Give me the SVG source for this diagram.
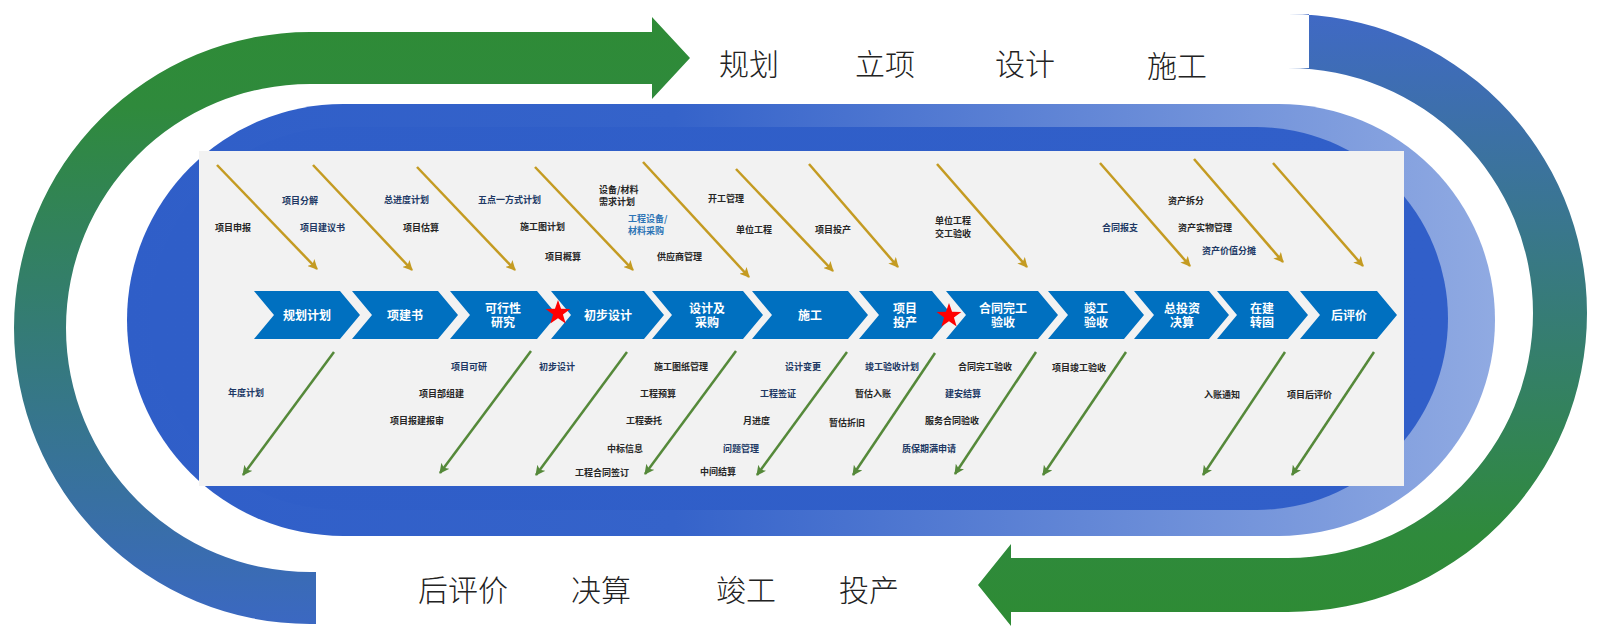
<svg xmlns="http://www.w3.org/2000/svg" width="1600" height="634" viewBox="0 0 1600 634">
<defs>
<style>
.big{font-family:"Noto Sans CJK SC","Noto Sans CJK TC",sans-serif;font-size:30px;font-weight:300;fill:#222;}
.sm{font-family:"Noto Sans CJK SC",sans-serif;font-size:9px;font-weight:700;}
.dk{fill:#262626;}
.nv{fill:#203864;}
.bl{fill:#2E75B6;}
.chev{fill:#0070C0;}
.ct{font-family:"Noto Sans CJK SC",sans-serif;font-size:12px;font-weight:700;fill:#fff;text-anchor:middle;}
.gold{stroke:#C49B22;stroke-width:2.5;fill:none;marker-end:url(#mg);}
.grn{stroke:#55893A;stroke-width:2.5;fill:none;marker-end:url(#mn);}
</style>
<linearGradient id="gl" gradientUnits="userSpaceOnUse" x1="0" y1="16" x2="0" y2="624">
<stop offset="0" stop-color="#2E8B36"/><stop offset="0.15" stop-color="#2F8A3C"/><stop offset="1" stop-color="#3B68C2"/>
</linearGradient>
<linearGradient id="gr" gradientUnits="userSpaceOnUse" x1="0" y1="14" x2="0" y2="626">
<stop offset="0" stop-color="#4069C5"/><stop offset="0.85" stop-color="#2F8A3C"/><stop offset="1" stop-color="#2E8B34"/>
</linearGradient>
<linearGradient id="so" gradientUnits="userSpaceOnUse" x1="127" y1="0" x2="1495" y2="0">
<stop offset="0" stop-color="#2F5EC8"/><stop offset="0.4" stop-color="#3563CA"/><stop offset="1" stop-color="#90AAE2"/>
</linearGradient>
<linearGradient id="si" gradientUnits="userSpaceOnUse" x1="150" y1="0" x2="1448" y2="0">
<stop offset="0" stop-color="#2F5EC8"/><stop offset="1" stop-color="#315FC9"/>
</linearGradient>
<marker id="mg" viewBox="0 0 10 10" refX="9" refY="5" markerWidth="10" markerHeight="10" markerUnits="userSpaceOnUse" orient="auto">
<path d="M0,0 L10,5 L0,10 L2.5,5 z" fill="#C49B22"/>
</marker>
<marker id="mn" viewBox="0 0 10 10" refX="9" refY="5" markerWidth="10" markerHeight="10" markerUnits="userSpaceOnUse" orient="auto">
<path d="M0,0 L10,5 L0,10 L2.5,5 z" fill="#55893A"/>
</marker>
<path id="star" d="M0,-13 L3.06,-4.21 L12.36,-4.02 L4.95,1.61 L7.64,10.52 L0,5.2 L-7.64,10.52 L-4.95,1.61 L-12.36,-4.02 L-3.06,-4.21 Z" fill="#FF0000"/>
</defs>

<!-- outer cycle arrows -->
<g id="cycle-left">
<path d="M316,624 L310,624 A296,296 0 0 1 14,328 A296,296 0 0 1 310,32 L652,32 L652,17 L690,58 L652,99 L652,84 L310,84 A244,244 0 0 0 66,328 A244,244 0 0 0 310,572 L316,572 Z" fill="url(#gl)"/>
</g>
<g id="cycle-right">
<path d="M1309,14 L1288,14 A299,299 0 0 1 1587,313 A299,299 0 0 1 1288,612 L1011,612 L1011,626 L978,585 L1011,544 L1011,558 L1288,558 A245,245 0 0 0 1533,313 A245,245 0 0 0 1288,68 L1309,68 Z" fill="url(#gr)"/>
</g>

<!-- stadium band -->
<g id="band">
<rect x="127" y="104" width="1368" height="432" rx="216" ry="216" fill="url(#so)"/>
<rect x="150" y="127" width="1298" height="383" rx="191.5" ry="191.5" fill="url(#si)"/>
<rect x="199" y="151" width="1205" height="335" fill="#F2F2F2"/>
</g>

<!-- stage labels -->
<g id="stage-labels">
<text class="big" x="719" y="75">规划</text>
<text class="big" x="855" y="75">立项</text>
<text class="big" x="995" y="75">设计</text>
<text class="big" x="1147" y="77">施工</text>
<text class="big" x="418" y="601">后评价</text>
<text class="big" x="571" y="601">决算</text>
<text class="big" x="716" y="601">竣工</text>
<text class="big" x="839" y="601">投产</text>
</g>

<!-- chevron process nodes -->
<g id="n1"><polygon class="chev" points="254,291 340,291 360,315 340,339 254,339 274,315"/><text class="ct" x="307" y="319.5">规划计划</text></g>
<g id="n2"><polygon class="chev" points="352,291 438,291 458,315 438,339 352,339 372,315"/><text class="ct" x="405" y="319.5">项建书</text></g>
<g id="n3"><polygon class="chev" points="450,291 537,291 557,315 537,339 450,339 470,315"/><text class="ct" x="503" y="312.5">可行性</text><text class="ct" x="503" y="326.5">研究</text></g>
<g id="n4"><polygon class="chev" points="551,291 644,291 664,315 644,339 551,339 571,315"/><text class="ct" x="608" y="319.5">初步设计</text></g>
<g id="n5"><polygon class="chev" points="652,291 743,291 763,315 743,339 652,339 672,315"/><text class="ct" x="707" y="312.5">设计及</text><text class="ct" x="707" y="326.5">采购</text></g>
<g id="n6"><polygon class="chev" points="752,291 848,291 868,315 848,339 752,339 772,315"/><text class="ct" x="810" y="319.5">施工</text></g>
<g id="n7"><polygon class="chev" points="859,291 932,291 952,315 932,339 859,339 879,315"/><text class="ct" x="905" y="312.5">项目</text><text class="ct" x="905" y="326.5">投产</text></g>
<g id="n8"><polygon class="chev" points="946,291 1038,291 1058,315 1038,339 946,339 966,315"/><text class="ct" x="1003" y="312.5">合同完工</text><text class="ct" x="1003" y="326.5">验收</text></g>
<g id="n9"><polygon class="chev" points="1048,291 1124,291 1144,315 1124,339 1048,339 1068,315"/><text class="ct" x="1096" y="312.5">竣工</text><text class="ct" x="1096" y="326.5">验收</text></g>
<g id="n10"><polygon class="chev" points="1134,291 1209,291 1229,315 1209,339 1134,339 1154,315"/><text class="ct" x="1182" y="312.5">总投资</text><text class="ct" x="1182" y="326.5">决算</text></g>
<g id="n11"><polygon class="chev" points="1217,291 1288,291 1308,315 1288,339 1217,339 1237,315"/><text class="ct" x="1262" y="312.5">在建</text><text class="ct" x="1262" y="326.5">转固</text></g>
<g id="n12"><polygon class="chev" points="1300,291 1377,291 1397,315 1377,339 1300,339 1320,315"/><text class="ct" x="1349" y="319.5">后评价</text></g>

<g id="milestones">
<use href="#star" x="558" y="313"/>
<use href="#star" x="949" y="316"/>
</g>

<!-- connectors -->
<g id="connectors">
<path class="gold" d="M217,165 L317,269"/>
<path class="gold" d="M313,165 L412,270"/>
<path class="gold" d="M417,167 L515,270"/>
<path class="gold" d="M535,167 L633,270"/>
<path class="gold" d="M643,162 L749,277"/>
<path class="gold" d="M736,169 L833,271"/>
<path class="gold" d="M809,164 L898,267"/>
<path class="gold" d="M937,164 L1027,267"/>
<path class="gold" d="M1100,163 L1190,266"/>
<path class="gold" d="M1194,159 L1283,262"/>
<path class="gold" d="M1273,163 L1363,266"/>
<path class="grn" d="M334,352 L243,475"/>
<path class="grn" d="M531,351 L440,473"/>
<path class="grn" d="M627,352 L536,475"/>
<path class="grn" d="M736,351 L645,474"/>
<path class="grn" d="M847,352 L757,475"/>
<path class="grn" d="M935,353 L853,475"/>
<path class="grn" d="M1036,352 L955,474"/>
<path class="grn" d="M1126,352 L1043,475"/>
<path class="grn" d="M1285,352 L1203,475"/>
<path class="grn" d="M1374,352 L1292,475"/>
</g>

<!-- upper task labels -->
<g id="upper-labels">
<text class="sm dk" x="215" y="230.5">项目申报</text>
<text class="sm nv" x="282" y="203.5">项目分解</text>
<text class="sm nv" x="300" y="230.5">项目建议书</text>
<text class="sm nv" x="384" y="202.5">总进度计划</text>
<text class="sm dk" x="403" y="230.5">项目估算</text>
<text class="sm nv" x="478" y="202.5">五点一方式计划</text>
<text class="sm dk" x="520" y="229.5">施工图计划</text>
<text class="sm dk" x="545" y="259.5">项目概算</text>
<text class="sm dk" x="599" y="192.5">设备/材料</text>
<text class="sm dk" x="599" y="205">需求计划</text>
<text class="sm bl" x="628" y="221.5">工程设备/</text>
<text class="sm bl" x="628" y="233.5">材料采购</text>
<text class="sm dk" x="657" y="259.5">供应商管理</text>
<text class="sm dk" x="708" y="201.5">开工管理</text>
<text class="sm dk" x="736" y="232.5">单位工程</text>
<text class="sm dk" x="815" y="232.5">项目投产</text>
<text class="sm dk" x="935" y="224">单位工程</text>
<text class="sm dk" x="935" y="236.5">交工验收</text>
<text class="sm nv" x="1102" y="230.5">合同报支</text>
<text class="sm dk" x="1168" y="203.5">资产拆分</text>
<text class="sm dk" x="1178" y="230.5">资产实物管理</text>
<text class="sm nv" x="1202" y="253.5">资产价值分摊</text>
</g>

<!-- lower task labels -->
<g id="lower-labels">
<text class="sm nv" x="228" y="395.5">年度计划</text>
<text class="sm nv" x="451" y="369.5">项目可研</text>
<text class="sm dk" x="419" y="396.5">项目部组建</text>
<text class="sm dk" x="390" y="423.5">项目报建报审</text>
<text class="sm nv" x="539" y="369.5">初步设计</text>
<text class="sm dk" x="575" y="475.5">工程合同签订</text>
<text class="sm dk" x="654" y="369.5">施工图纸管理</text>
<text class="sm dk" x="640" y="396.5">工程预算</text>
<text class="sm dk" x="626" y="423.5">工程委托</text>
<text class="sm dk" x="607" y="451.5">中标信息</text>
<text class="sm nv" x="785" y="369.5">设计变更</text>
<text class="sm nv" x="760" y="396.5">工程签证</text>
<text class="sm dk" x="743" y="423.5">月进度</text>
<text class="sm nv" x="723" y="451.5">问题管理</text>
<text class="sm dk" x="700" y="474.5">中间结算</text>
<text class="sm nv" x="865" y="369.5">竣工验收计划</text>
<text class="sm dk" x="855" y="396.5">暂估入账</text>
<text class="sm dk" x="829" y="425.5">暂估折旧</text>
<text class="sm nv" x="902" y="451.5">质保期满申请</text>
<text class="sm dk" x="958" y="369.5">合同完工验收</text>
<text class="sm nv" x="945" y="396.5">建安结算</text>
<text class="sm dk" x="925" y="423.5">服务合同验收</text>
<text class="sm dk" x="1052" y="370.5">项目竣工验收</text>
<text class="sm dk" x="1204" y="397.5">入账通知</text>
<text class="sm dk" x="1287" y="397.5">项目后评价</text>
</g>
</svg>
